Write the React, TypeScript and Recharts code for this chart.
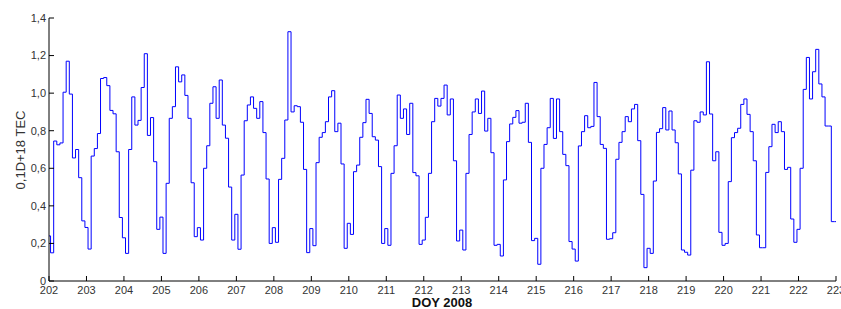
import React from 'react';
import { LineChart, Line, XAxis, YAxis } from 'recharts';

// 2-hour TEC samples, 12 per day, starting at DOY 202.0
const firstDay = 202;
const samplesPerDay = 12;

const tec = [
  // 202
  0.24, 0.15, 0.745, 0.725, 0.735, 1.005, 1.17, 0.995, 0.655, 0.70, 0.55, 0.32,
  // 203
  0.285, 0.17, 0.665, 0.705, 0.785, 1.078, 1.083, 1.04, 0.908, 0.89, 0.688, 0.338,
  // 204
  0.23, 0.147, 0.70, 0.98, 0.83, 0.855, 1.03, 1.21, 0.775, 0.87, 0.635, 0.275,
  // 205
  0.34, 0.147, 0.52, 0.866, 0.928, 1.14, 1.06, 1.097, 0.988, 0.866, 0.523, 0.236,
  // 206
  0.284, 0.218, 0.6, 0.72, 0.946, 1.034, 0.866, 1.07, 0.83, 0.76, 0.50, 0.218,
  // 207
  0.355, 0.169, 0.564, 0.853, 0.937, 0.98, 0.919, 0.866, 0.955, 0.79, 0.543, 0.2,
  // 208
  0.284, 0.206, 0.541, 0.653, 0.857, 1.327, 0.90, 0.933, 0.928, 0.845, 0.594, 0.151,
  // 209
  0.279, 0.188, 0.63, 0.765, 0.79, 0.848, 0.98, 1.013, 0.795, 0.84, 0.623, 0.174,
  // 210
  0.307, 0.248, 0.582, 0.617, 0.765, 0.843, 0.967, 0.892, 0.768, 0.75, 0.609, 0.2,
  // 211
  0.279, 0.19, 0.573, 0.72, 0.99, 0.866, 0.916, 0.78, 0.946, 0.577, 0.56, 0.195,
  // 212
  0.218, 0.339, 0.573, 0.848, 0.972, 0.931, 0.972, 1.043, 0.884, 0.969, 0.64, 0.213,
  // 213
  0.271, 0.165, 0.573, 0.78, 0.90, 0.969, 0.892, 1.011, 0.798, 0.866, 0.683, 0.19,
  // 214
  0.195, 0.133, 0.538, 0.742, 0.836, 0.871, 0.907, 0.84, 0.845, 0.946, 0.738, 0.215,
  // 215
  0.227, 0.089, 0.60, 0.727, 0.816, 0.972, 0.759, 0.969, 0.795, 0.674, 0.614, 0.21,
  // 216
  0.17, 0.106, 0.719, 0.795, 0.88, 0.816, 0.823, 1.057, 0.875, 0.727, 0.706, 0.222,
  // 217
  0.225, 0.257, 0.648, 0.738, 0.795, 0.875, 0.848, 0.916, 0.94, 0.747, 0.461, 0.071,
  // 218
  0.174, 0.147, 0.532, 0.791, 0.811, 0.923, 0.804, 0.905, 0.804, 0.736, 0.57, 0.165,
  // 219
  0.153, 0.138, 0.59, 0.853, 0.845, 0.90, 0.884, 1.167, 0.889, 0.64, 0.688, 0.259,
  // 220
  0.19, 0.2, 0.529, 0.763, 0.79, 0.813, 0.94, 0.969, 0.887, 0.795, 0.64, 0.245,
  // 221
  0.177, 0.177, 0.578, 0.715, 0.834, 0.79, 0.848, 0.795, 0.594, 0.605, 0.33, 0.206,
  // 222
  0.275, 0.60, 1.02, 1.19, 0.969, 1.114, 1.233, 1.049, 0.98, 0.825, 0.825, 0.316,
  // 223
  0.316,
];

const xTicks = [202, 203, 204, 205, 206, 207, 208, 209, 210, 211, 212, 213, 214, 215, 216, 217, 218, 219, 220, 221, 222, 223];
const yTicks = [0, 0.2, 0.4, 0.6, 0.8, 1.0, 1.2, 1.4];
const yTickLabels = ['0', '0,2', '0,4', '0,6', '0,8', '1,0', '1,2', '1,4'];

const data = tec.map((v, i) => ({ doy: firstDay + i / samplesPerDay, tec: v }));

const FONT = '"Liberation Sans", Arial, sans-serif';
const tickStyle = { fontSize: 11, fill: '#333', fontFamily: FONT };

export default function App() {
  return (
    <div style={{ position: 'absolute', left: 0, top: 0, width: 841, height: 309, background: '#fff' }}>
      <LineChart width={841} height={309} data={data} margin={{ top: 18, right: 5, bottom: 0, left: 0 }}>
        <XAxis
          xAxisId="b"
          type="number"
          dataKey="doy"
          domain={[202, 223]}
          ticks={xTicks}
          interval={0}
          allowDataOverflow
          height={28}
          tickSize={-5}
          tickMargin={10}
          tick={tickStyle}
          axisLine={{ stroke: '#000' }}
          tickLine={{ stroke: '#000' }}
          label={{
            content: () => (
              <text x={442} y={307} textAnchor="middle" fontFamily={FONT} fontSize={13} fontWeight="bold" fill="#111">
                DOY 2008
              </text>
            ),
          }}
        />
        <XAxis
          xAxisId="t"
          orientation="top"
          type="number"
          dataKey="doy"
          domain={[202, 223]}
          ticks={xTicks}
          interval={0}
          allowDataOverflow
          height={0}
          tickSize={-5}
          tickFormatter={() => ''}
          axisLine={{ stroke: '#808080' }}
          tickLine={{ stroke: '#333' }}
        />
        <YAxis
          yAxisId="l"
          type="number"
          domain={[0, 1.4]}
          ticks={yTicks}
          interval={0}
          width={49}
          tickSize={-5}
          tickMargin={8}
          tick={tickStyle}
          tickFormatter={(v: number, i: number) => yTickLabels[i]}
          axisLine={{ stroke: '#000' }}
          tickLine={{ stroke: '#000' }}
          label={{
            content: () => (
              <text x={25} y={150} transform="rotate(-90 25 150)" textAnchor="middle" fontFamily={FONT} fontSize={13} fill="#333">
                0,1D+18 TEC
              </text>
            ),
          }}
        />
        <YAxis
          yAxisId="r"
          orientation="right"
          type="number"
          domain={[0, 1.4]}
          ticks={yTicks}
          interval={0}
          width={0}
          tickSize={-5}
          tickFormatter={() => ''}
          axisLine={{ stroke: '#555' }}
          tickLine={{ stroke: '#333' }}
        />
        <Line
          xAxisId="b"
          yAxisId="l"
          type="step"
          dataKey="tec"
          stroke="#0000ff"
          strokeWidth={1}
          dot={false}
          activeDot={false}
          isAnimationActive={false}
        />
      </LineChart>
    </div>
  );
}
